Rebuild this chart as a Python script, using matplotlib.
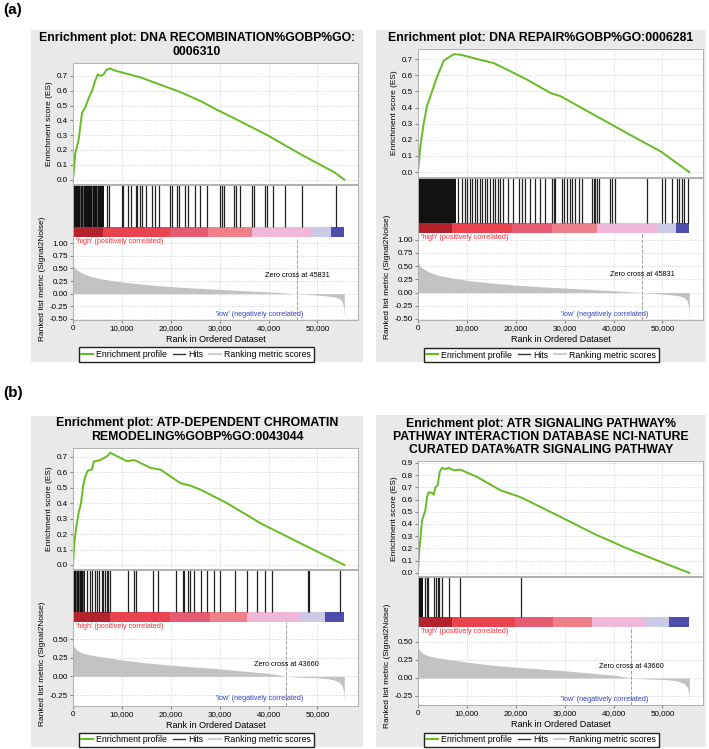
import matplotlib
matplotlib.use("Agg")
import matplotlib.pyplot as plt
from matplotlib.patches import Rectangle
from matplotlib.lines import Line2D
from matplotlib.ticker import FuncFormatter

plt.rcParams['font.family'] = ['Liberation Sans', 'DejaVu Sans']

W, H = 709, 749

# ---- shared data ----
n_genes = 55500
x_max = 58300
rank_ticks = [0, 10000, 20000, 30000, 40000, 50000]
bar_colors = ['#b3222d', '#e8434f', '#e55b71', '#ef7f88', '#f0b8d8', '#cbcbe8', '#4d4dab']

# ---- panel 1: DNA recombination ----
title1 = "Enrichment plot: DNA RECOMBINATION%GOBP%GO:\n0006310"
es1_rank = [0, 480, 1160, 1840, 2530, 3210, 3890, 4580, 5050, 5600, 6280, 6830, 7510, 8670,
            10380, 13800, 17900, 22000, 26100, 29500, 32900, 39750, 46600, 53400, 55500]
es1_val = [0.0, 0.18, 0.27, 0.45, 0.49, 0.55, 0.60, 0.67, 0.71, 0.70, 0.71, 0.74, 0.75, 0.735,
           0.72, 0.69, 0.64, 0.59, 0.53, 0.47, 0.415, 0.30, 0.17, 0.05, 0.0]
dense1 = [(0, 6250)]
gaps1 = [1500, 2100, 3800, 5000]
hits1 = [6900, 7400, 9970, 10310, 11340, 11900, 12800, 13050, 13730, 14070, 15000, 16200,
         16800, 17500, 19870, 20220, 21300, 21700, 23000, 23600, 25000, 26000, 27400, 30120,
         30460, 30800, 32850, 33400, 34200, 36600, 36950, 39340, 39680, 40900, 43300, 46850, 53850]
bar1_edges = [0, 6200, 19900, 27700, 36600, 48600, 52700, 55500]
met1_rank = [0, 300, 800, 2000, 4000, 6000, 10000, 15000, 20000, 25000, 30000, 35000, 40000,
             43000, 45831, 48000, 50000, 52000, 53500, 54500, 55100, 55400, 55500]
met1_val = [0.57, 0.52, 0.47, 0.40, 0.33, 0.29, 0.23, 0.18, 0.14, 0.11, 0.085, 0.06, 0.035,
            0.015, 0.0, -0.015, -0.03, -0.045, -0.065, -0.10, -0.16, -0.28, -0.48]
zero1 = 45831

# ---- panel 2: DNA repair ----
title2 = "Enrichment plot: DNA REPAIR%GOBP%GO:0006281"
es2_rank = [0, 480, 1160, 1840, 2530, 3210, 3890, 4580, 5260, 6280, 7310, 8670, 12090, 15500,
            18920, 22330, 27100, 29160, 35990, 42820, 49650, 55500]
es2_val = [0.0, 0.16, 0.30, 0.41, 0.47, 0.53, 0.59, 0.64, 0.69, 0.71, 0.73, 0.727, 0.70, 0.675,
           0.624, 0.572, 0.49, 0.47, 0.355, 0.24, 0.128, 0.0]
dense2 = [(0, 7700)]
gaps2 = []
hits2 = [8260, 8950, 9630, 9970, 10650, 11000, 11680, 12020, 12700, 13050, 13730, 14070,
         14750, 15440, 15780, 16460, 16800, 17480, 18510, 19530, 20560, 21240, 21920, 22950,
         23970, 25000, 26020, 27390, 27730, 28070, 29440, 29780, 30460, 31140, 31490, 32170,
         32850, 33540, 35580, 35930, 36270, 36610, 36950, 39340, 39680, 40370, 46850, 49930,
         50610, 51980, 53000, 53340, 54030, 54370, 55250]
bar2_edges = [0, 6900, 19200, 27400, 36600, 48900, 52700, 55500]
met2_rank = met1_rank
met2_val = met1_val
zero2 = 45831

# ---- panel 3: ATP-dependent chromatin remodeling ----
title3 = "Enrichment plot: ATP-DEPENDENT CHROMATIN\nREMODELING%GOBP%GO:0043044"
es3_rank = [0, 270, 680, 1160, 1640, 2050, 2530, 3000, 3890, 4230, 5600, 6970, 7650, 8330,
            11060, 12430, 13110, 15850, 17900, 21990, 24040, 26090, 31550, 38390, 46580,
            53410, 55500]
es3_val = [0.0, 0.14, 0.25, 0.34, 0.40, 0.51, 0.575, 0.61, 0.62, 0.67, 0.68, 0.705, 0.727,
           0.716, 0.672, 0.68, 0.672, 0.629, 0.618, 0.53, 0.514, 0.488, 0.40, 0.27, 0.14,
           0.033, 0.0]
dense3 = [(0, 2500)]
gaps3 = [550, 1300, 1950]
hits3 = [2800, 3480, 3820, 4510, 4850, 5400, 5870, 6220, 6560, 6900, 7240, 7580, 11340,
         12400, 12800, 16460, 17300, 21000, 22400, 22800, 23500, 23900, 24800, 26100, 27400,
         28800, 30100, 33200, 35600, 37700, 39200, 40800, 48000, 48300, 54710]
bar3_edges = [0, 7600, 19900, 28100, 35500, 46500, 51600, 55500]
met3_rank = [0, 300, 800, 2000, 4000, 6000, 10000, 15000, 20000, 25000, 30000, 35000, 40000,
             42000, 43660, 46000, 48000, 50000, 52000, 53500, 54500, 55100, 55400, 55500]
met3_val = [0.42, 0.39, 0.35, 0.31, 0.28, 0.26, 0.22, 0.18, 0.15, 0.125, 0.10, 0.07, 0.04,
            0.02, 0.0, -0.01, -0.015, -0.02, -0.03, -0.05, -0.08, -0.13, -0.22, -0.34]
zero3 = 43660

# ---- panel 4: ATR signaling pathway ----
title4 = ("Enrichment plot: ATR SIGNALING PATHWAY%\nPATHWAY INTERACTION DATABASE NCI-NATURE\n"
          "CURATED DATA%ATR SIGNALING PATHWAY")
es4_rank = [0, 200, 480, 820, 1160, 1500, 1840, 2190, 2870, 3210, 3550, 4030, 4440, 4920,
            5600, 6280, 7310, 8670, 12090, 16870, 20970, 29160, 35990, 42820, 49650, 55500]
es4_val = [0.0, 0.16, 0.27, 0.43, 0.47, 0.51, 0.62, 0.66, 0.654, 0.64, 0.70, 0.717, 0.826,
           0.86, 0.85, 0.86, 0.84, 0.845, 0.785, 0.676, 0.62, 0.458, 0.32, 0.199, 0.09, 0.0]
dense4 = [(0, 1100)]
gaps4 = []
hits4 = [1450, 1780, 2120, 3300, 3650, 4100, 4300, 4850, 6300, 8550, 21040]
bar4_edges = [0, 6900, 19900, 27700, 35500, 46700, 51300, 55500]
met4_rank = met3_rank
met4_val = met3_val
zero4 = 43660

# ---- layout (pixel boxes: x0, y0, x1, y1) ----
panels = [
    dict(bg=(31, 30, 363, 362), title=title1, title_y=45, es_box=(73, 63, 358, 184),
         es_lim=(-0.03, 0.787), es_ticks=[0.0, 0.1, 0.2, 0.3, 0.4, 0.5, 0.6, 0.7],
         hit_box=(73, 185, 358, 237), met_box=(73, 237, 358, 320), met_lim=(-0.52, 1.12),
         met_ticks=[-0.5, -0.25, 0.0, 0.25, 0.5, 0.75, 1.0], zero_y=0.35, low_y=-0.42,
         leg_y=354.5, es_rank=es1_rank, es_val=es1_val, dense=dense1, gaps=gaps1, hits=hits1,
         edges=bar1_edges, met_rank=met1_rank, met_val=met1_val, zero=zero1),
    dict(bg=(376, 30, 706, 362), title=title2, title_y=38, es_box=(418, 49, 703, 177),
         es_lim=(-0.03, 0.762), es_ticks=[0.0, 0.1, 0.2, 0.3, 0.4, 0.5, 0.6, 0.7],
         hit_box=(418, 178, 703, 233), met_box=(418, 233, 703, 320), met_lim=(-0.52, 1.127),
         met_ticks=[-0.5, -0.25, 0.0, 0.25, 0.5, 0.75, 1.0], zero_y=0.35, low_y=-0.42,
         leg_y=355, es_rank=es2_rank, es_val=es2_val, dense=dense2, gaps=gaps2, hits=hits2,
         edges=bar2_edges, met_rank=met2_rank, met_val=met2_val, zero=zero2),
    dict(bg=(31, 416, 363, 747), title=title3, title_y=430, es_box=(73, 448, 358, 569),
         es_lim=(-0.026, 0.758), es_ticks=[0.0, 0.1, 0.2, 0.3, 0.4, 0.5, 0.6, 0.7],
         hit_box=(73, 570, 358, 622), met_box=(73, 622, 358, 706), met_lim=(-0.397, 0.728),
         met_ticks=[-0.25, 0.0, 0.25, 0.5], zero_y=0.165, low_y=-0.30,
         leg_y=740, es_rank=es3_rank, es_val=es3_val, dense=dense3, gaps=gaps3, hits=hits3,
         edges=bar3_edges, met_rank=met3_rank, met_val=met3_val, zero=zero3),
    dict(bg=(376, 415, 706, 747), title=title4, title_y=437, es_box=(418, 461, 703, 576),
         es_lim=(-0.026, 0.916), es_ticks=[0.0, 0.1, 0.2, 0.3, 0.4, 0.5, 0.6, 0.7, 0.8, 0.9],
         hit_box=(418, 577, 703, 627), met_box=(418, 627, 703, 705), met_lim=(-0.375, 0.708),
         met_ticks=[-0.25, 0.0, 0.25, 0.5], zero_y=0.165, low_y=-0.30,
         leg_y=740, es_rank=es4_rank, es_val=es4_val, dense=dense4, gaps=gaps4, hits=hits4,
         edges=bar4_edges, met_rank=met4_rank, met_val=met4_val, zero=zero4),
]


def rect(b):
    x0, y0, x1, y1 = b
    return [x0 / W, 1 - y1 / H, (x1 - x0) / W, (y1 - y0) / H]


def style(ax):
    for s in ax.spines.values():
        s.set_color('#b0b0b0')
        s.set_linewidth(0.7)
    ax.set_facecolor('white')


fig = plt.figure(figsize=(W / 100, H / 100), dpi=100)
fig.text(3 / W, 1 - 10 / H, "(a)", fontsize=11, fontweight='bold', va='center', ha='left')
fig.text(3 / W, 1 - 393 / H, "(b)", fontsize=11, fontweight='bold', va='center', ha='left')

comma = FuncFormatter(lambda v, p: f"{int(v):,}")

for p in panels:
    bx = p['bg']
    fig.add_artist(Rectangle((bx[0] / W, 1 - bx[3] / H), (bx[2] - bx[0]) / W, (bx[3] - bx[1]) / H,
                             transform=fig.transFigure, facecolor='#e9e9e9', edgecolor='none',
                             zorder=-10))
    fig.text((bx[0] + bx[2]) / 2 / W, 1 - p['title_y'] / H, p['title'], ha='center', va='center',
             fontsize=8.8, fontweight='bold', linespacing=1.15)

    # enrichment score
    ax = fig.add_axes(rect(p['es_box']))
    style(ax)
    ax.plot(p['es_rank'], p['es_val'], color='#66bb22', lw=1.4)
    ax.set_xlim(0, x_max)
    ax.set_ylim(*p['es_lim'])
    ax.set_yticks(p['es_ticks'])
    ax.set_yticklabels([f"{v:.1f}" for v in p['es_ticks']])
    ax.set_xticks(rank_ticks)
    ax.tick_params(axis='x', length=0, labelbottom=False)
    ax.tick_params(axis='y', length=2, labelsize=5.8, pad=1.5, color='#888888')
    ax.grid(True, ls=':', color='#c8c8c8', lw=0.6)
    ax.set_ylabel("Enrichment score (ES)", fontsize=6, labelpad=3)

    # hits and ranked list colour bar
    ax = fig.add_axes(rect(p['hit_box']))
    style(ax)
    ax.set_xlim(0, x_max)
    ax.set_ylim(0, 1)
    cb = 10 / (p['hit_box'][3] - p['hit_box'][1])
    e = p['edges']
    ax.broken_barh([(e[i], e[i + 1] - e[i]) for i in range(len(e) - 1)], (0, cb),
                   facecolors=bar_colors)
    ax.broken_barh([(a, b - a) for a, b in p['dense']], (cb, 1 - cb), facecolors='#141210')
    ax.vlines(p['gaps'], cb, 1, color='#777777', lw=0.5)
    ax.vlines(p['hits'], cb, 1, color='#222222', lw=0.9)
    ax.set_xticks([])
    ax.set_yticks([])

    # ranked list metric
    ax = fig.add_axes(rect(p['met_box']))
    style(ax)
    ax.spines['top'].set_visible(False)
    ax.fill_between(p['met_rank'], p['met_val'], 0, color='#c2c2c2', lw=0)
    ax.axvline(p['zero'], ls='--', color='#a0a0a0', lw=0.7)
    ax.set_xlim(0, x_max)
    ax.set_ylim(*p['met_lim'])
    ax.set_yticks(p['met_ticks'])
    ax.set_yticklabels([f"{v:.2f}" for v in p['met_ticks']])
    ax.set_xticks(rank_ticks)
    ax.xaxis.set_major_formatter(comma)
    ax.tick_params(length=2, labelsize=5.8, pad=1.5, color='#888888')
    ax.grid(True, ls=':', color='#c8c8c8', lw=0.6)
    ax.set_xlabel("Rank in Ordered Dataset", fontsize=6.5, labelpad=2)
    ax.set_ylabel("Ranked list metric (Signal2Noise)", fontsize=6, labelpad=3)
    ax.text(600, 0.985, "'high' (positively correlated)", transform=ax.get_xaxis_transform(),
            color='#f0303a', fontsize=5.2, va='top', ha='left')
    ax.text(p['zero'], p['zero_y'], f"Zero cross at {p['zero']}", fontsize=5.2,
            ha='center', va='center')
    ax.text(38200, p['low_y'], "'low' (negatively correlated)", color='#3340c0',
            fontsize=5.2, ha='center', va='center')

    handles = [Line2D([], [], color='#66bb22', lw=1.5),
               Line2D([], [], color='#333333', lw=1),
               Line2D([], [], color='#d0d0d0', lw=1.5)]
    fig.legend(handles, ["Enrichment profile", "Hits", "Ranking metric scores"],
               loc='center', bbox_to_anchor=((p['met_box'][0] + 123) / W, 1 - p['leg_y'] / H),
               ncol=3, fontsize=6.3, frameon=True, fancybox=False, edgecolor='#222222',
               handlelength=1.4, handletextpad=0.3, columnspacing=0.7, borderpad=0.3,
               framealpha=1)

fig.savefig("out.png", dpi=100)
